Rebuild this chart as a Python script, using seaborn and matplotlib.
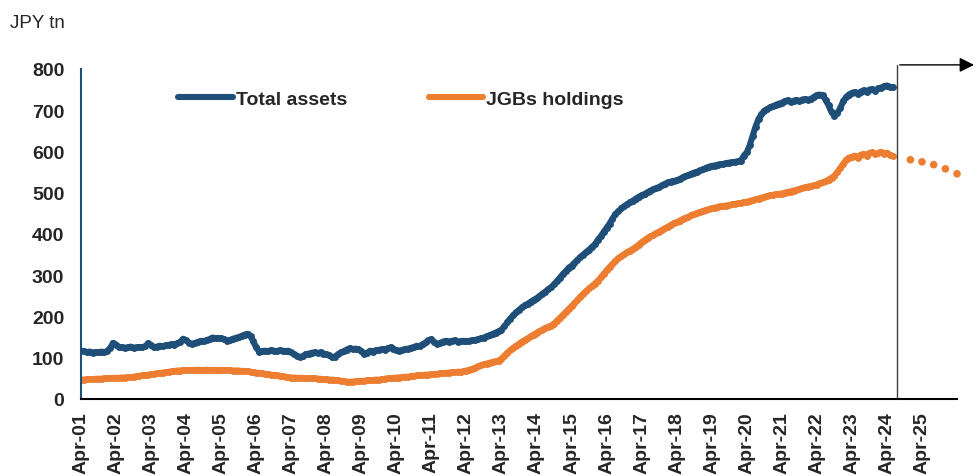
import matplotlib
matplotlib.use("Agg")
import matplotlib.pyplot as plt
import seaborn as sns
import pandas as pd

# BoJ balance sheet, JPY tn, monthly from Apr-2001 (rows = fiscal years Apr..Mar)
total_assets = [
    117, 116, 113, 115, 112, 114, 113, 115, 113, 117, 124, 136,  # FY01
    132, 126, 126, 124, 125, 127, 124, 125, 126, 125, 128, 135,  # FY02
    130, 125, 127, 129, 128, 130, 131, 133, 132, 135, 139, 146,  # FY03
    142, 136, 133, 136, 138, 141, 140, 143, 145, 149, 147, 148,  # FY04
    147, 145, 141, 143, 146, 148, 150, 153, 156, 158, 152, 140,  # FY05
    125, 115, 116, 117, 116, 118, 117, 116, 118, 117, 116, 117,  # FY06
    113, 108, 105, 101, 104, 109, 110, 112, 113, 111, 113, 110,  # FY07
    109, 106, 101, 103, 108, 113, 116, 120, 123, 121, 122, 121,  # FY08
    116, 109, 112, 117, 115, 118, 119, 121, 120, 123, 125, 122,  # FY09
    118, 117, 119, 121, 122, 124, 126, 129, 128, 133, 137, 142,  # FY10
    145, 138, 133, 136, 139, 141, 139, 141, 142, 139, 140, 141,  # FY11
    140, 141, 142, 143, 145, 147, 149, 152, 155, 158, 161, 164,  # FY12
    168, 176, 186, 195, 203, 210, 216, 222, 227, 231, 236, 240,  # FY13
    244, 249, 255, 260, 266, 271, 278, 286, 294, 303, 310, 318,  # FY14
    323, 330, 337, 344, 350, 356, 362, 369, 375, 386, 395, 405,  # FY15
    415, 425, 437, 448, 455, 462, 467, 472, 477, 481, 486, 490,  # FY16
    494, 497, 501, 505, 508, 511, 514, 518, 522, 525, 527, 529,  # FY17
    530, 533, 537, 540, 543, 546, 549, 551, 554, 557, 560, 563,  # FY18
    565, 566, 568, 569, 570, 572, 573, 574, 575, 576, 578, 590,  # FY19
    598, 615, 638, 660, 679, 690, 699, 703, 707, 710, 713, 716,  # FY20
    718, 722, 724, 720, 723, 725, 722, 726, 727, 725, 728, 732,  # FY21
    737, 738, 736, 725, 712, 695, 687, 693, 705, 722, 732, 738,  # FY22
    742, 744, 739, 745, 748, 744, 750, 751, 747, 753, 755, 758,  # FY23
    760, 757, 756,                                               # FY24
]

jgb_holdings = [
    47, 47, 48, 48, 48, 49, 49, 49, 50, 50, 50, 51,
    51, 51, 52, 52, 53, 53, 54, 55, 56, 57, 58, 59,
    60, 61, 62, 63, 64, 65, 66, 67, 68, 69, 69, 70,
    70, 70, 70, 70, 71, 70, 70, 71, 70, 70, 70, 70,
    70, 70, 70, 70, 69, 69, 69, 68, 68, 67, 66, 65,
    64, 63, 62, 61, 60, 59, 58, 57, 56, 55, 54, 53,
    52, 52, 51, 51, 51, 50, 50, 50, 50, 49, 49, 48,
    48, 47, 47, 46, 45, 44, 43, 42, 42, 42, 43, 43,
    44, 44, 45, 45, 46, 47, 47, 48, 49, 50, 50, 51,
    52, 52, 53, 54, 54, 55, 56, 57, 57, 58, 59, 59,
    60, 60, 61, 62, 62, 63, 64, 65, 65, 66, 66, 67,
    69, 71, 73, 76, 79, 82, 84, 86, 88, 90, 91, 93,
    98, 105, 112, 118, 124, 129, 134, 139, 143, 147, 152, 156,
    160, 164, 168, 172, 175, 178, 183, 190, 197, 204, 211, 218,
    225, 232, 240, 248, 255, 262, 268, 274, 280, 287, 295, 303,
    312, 320, 327, 335, 341, 346, 351, 356, 360, 364, 369, 374,
    380, 385, 390, 394, 398, 402, 406, 410, 414, 418, 422, 426,
    429, 432, 436, 439, 442, 445, 448, 451, 453, 456, 458, 460,
    462, 464, 465, 467, 468, 469, 470, 472, 473, 474, 475, 477,
    478, 480, 482, 484, 486, 488, 490, 492, 494, 495, 496, 497,
    498, 500, 502, 503, 505, 507, 509, 511, 513, 515, 516, 518,
    520, 523, 525, 528, 532, 536, 541, 550, 560, 570, 580, 585,
    587, 590, 585, 592, 594, 590, 596, 598, 593, 597, 599, 595,
    597, 592, 589,
]

# projected JGB holdings (dotted)
proj_dates = ["2024-12-01", "2025-04-01", "2025-08-01", "2025-12-01", "2026-04-01"]
proj_jgb = [580, 575, 568, 558, 546]

tick_years = list(range(2001, 2027))
tick_labels = [f"Apr-{y % 100:02d}" for y in tick_years[:-1]] + [""]

BLUE = "#1F4E79"
ORANGE = "#ED7D31"

dates = pd.date_range("2001-04-01", periods=len(total_assets), freq="MS")
df = pd.DataFrame({"Date": dates, "Total assets": total_assets,
                   "JGBs holdings": jgb_holdings})
proj = pd.DataFrame({"Date": pd.to_datetime(proj_dates), "JGB": proj_jgb})

sns.set_style("white")
plt.rcParams["font.family"] = ["Liberation Sans", "DejaVu Sans"]

fig = plt.figure(figsize=(9.77, 4.77), dpi=100)
ax = fig.add_axes([81 / 977, 77 / 477, 876 / 977, 330 / 477])

sns.lineplot(data=df, x="Date", y="Total assets", ax=ax, color=BLUE, lw=4.4,
             marker="o", markersize=5, markeredgewidth=0, label="Total assets")
sns.lineplot(data=df, x="Date", y="JGBs holdings", ax=ax, color=ORANGE, lw=4.4,
             marker="o", markersize=5, markeredgewidth=0, label="JGBs holdings")
sns.scatterplot(data=proj, x="Date", y="JGB", ax=ax, color=ORANGE, s=30,
                edgecolor="none", clip_on=False, legend=False)

ax.set_xlim(pd.Timestamp("2001-04-01"), pd.Timestamp("2026-04-01"))
ax.set_ylim(0, 800)
ax.set_yticks(range(0, 801, 100))
ax.set_xticks([pd.Timestamp(f"{y}-04-01") for y in tick_years])
ax.set_xticklabels(tick_labels, rotation=90, fontsize=14, fontweight="bold")
for lab in ax.get_yticklabels():
    lab.set_fontsize(14)
    lab.set_fontweight("bold")
ax.set_xlabel("")
ax.set_ylabel("")

for side in ["top", "right"]:
    ax.spines[side].set_visible(False)
ax.spines["left"].set_color(BLUE)
ax.spines["left"].set_linewidth(1.5)
ax.spines["bottom"].set_color("black")
ax.spines["bottom"].set_linewidth(1.5)
ax.tick_params(axis="y", direction="out", length=6, width=1.5, color=BLUE, pad=6)
ax.tick_params(axis="x", direction="out", length=6, width=1.5, color="black", pad=3)

# forecast divider and arrow
cut = pd.Timestamp("2024-07-15")
ax.plot([cut, cut], [0, 810], color="#404040", lw=1, clip_on=False)
ax.annotate("", xy=(pd.Timestamp("2026-10-25"), 810), xytext=(cut, 810),
            arrowprops=dict(arrowstyle="-|>", color="black", lw=1,
                            mutation_scale=22),
            annotation_clip=False)

leg = ax.legend(loc="center left", bbox_to_anchor=(0.111, 0.909), ncol=2,
                frameon=False, borderpad=0, borderaxespad=0, handlelength=2.8,
                handletextpad=0.15, columnspacing=4.2,
                prop={"size": 14, "weight": "bold"})
for line in leg.get_lines():
    line.set_linewidth(4.4)
    line.set_marker("")

fig.text(10 / 977, 1 - 15 / 477, "JPY tn", fontsize=13.5, va="top", ha="left")

fig.savefig("out.png", dpi=100)
